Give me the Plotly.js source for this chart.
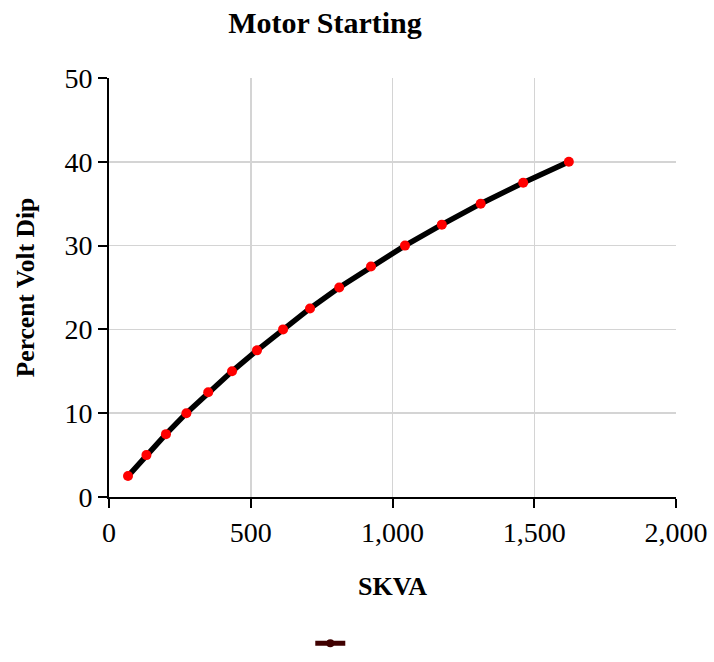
<!DOCTYPE html>
<html>
<head>
<meta charset="utf-8">
<script src="https://cdn.plot.ly/plotly-3.0.1.min.js"></script>
<style>html,body{margin:0;padding:0;background:#fff;}#chart{width:714px;height:662px;}</style>
</head>
<body>
<div id="chart"></div>
<script>
var skva = [67, 132, 201, 273, 350, 434, 522, 614, 709, 812, 924, 1044, 1174, 1311, 1461, 1622];
var voltDip = [2.5, 5, 7.5, 10, 12.5, 15, 17.5, 20, 22.5, 25, 27.5, 30, 32.5, 35, 37.5, 40];
var xTicks = [0, 500, 1000, 1500, 2000];
var yTicks = [0, 10, 20, 30, 40, 50];

var font = 'Liberation Serif, Times New Roman, serif';

var traces = [
  {
    x: skva, y: voltDip, mode: 'lines+markers', type: 'scatter',
    line: {color: '#000000', width: 5.5},
    marker: {color: '#ff0000', size: 10},
    showlegend: false, hoverinfo: 'x+y'
  },
  {
    x: [null], y: [null], mode: 'lines+markers', type: 'scatter', name: ' ',
    line: {color: '#3f0000', width: 5},
    marker: {color: '#3f0000', size: 8},
    showlegend: true
  }
];

var layout = {
  width: 714, height: 662,
  margin: {l: 109, r: 38, t: 78, b: 165, autoexpand: false},
  paper_bgcolor: '#ffffff', plot_bgcolor: '#ffffff',
  font: {family: font, color: '#000000', size: 28},
  title: {text: '<b>Motor Starting</b>', font: {family: font, size: 30, color: '#000'}, x: 325/714, xanchor: 'center', y: 1 - 22/662, yanchor: 'middle'},
  xaxis: {
    range: [0, 2000], tickvals: xTicks, tickformat: ',d', automargin: false,
    showgrid: true, gridcolor: '#d4d4d4', gridwidth: 1.5,
    showline: true, linecolor: '#000', linewidth: 2,
    ticks: 'outside', ticklen: 9, tickwidth: 2, tickcolor: '#000',
    zeroline: false,
    tickfont: {family: font, size: 28},
    title: {text: '<b>SKVA</b>', font: {family: font, size: 26}, standoff: 30}
  },
  yaxis: {
    range: [0, 50], tickvals: yTicks, automargin: false,
    showgrid: true, gridcolor: '#d4d4d4', gridwidth: 1.5,
    showline: true, linecolor: '#000', linewidth: 2,
    ticks: 'outside', ticklen: 9, tickwidth: 2, tickcolor: '#000',
    zeroline: false,
    tickfont: {family: font, size: 28},
    title: {text: '<b>Percent Volt Dip</b>', font: {family: font, size: 25.5}, standoff: 22}
  },
  showlegend: true,
  legend: {orientation: 'h', x: 0.355, xanchor: 'left', y: -0.35, yanchor: 'middle', font: {size: 14}, itemwidth: 30}
};

Plotly.newPlot('chart', traces, layout, {displayModeBar: false, staticPlot: true});
</script>
</body>
</html>
